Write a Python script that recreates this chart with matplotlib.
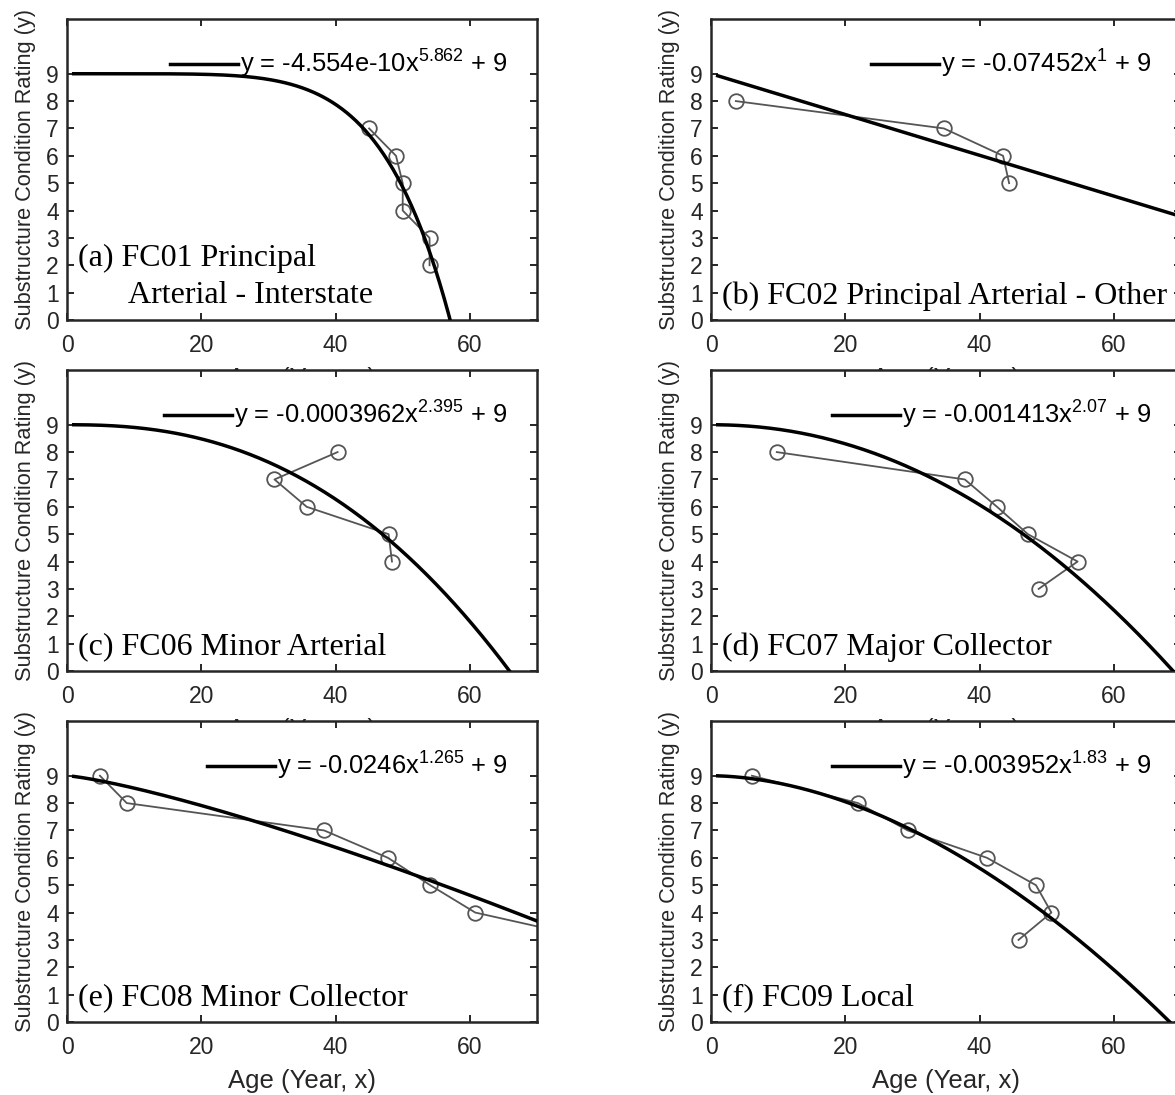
import numpy as np
import matplotlib
matplotlib.use("Agg")
import matplotlib.pyplot as plt

plt.rcParams["font.family"] = ["Liberation Sans", "DejaVu Sans"]
plt.rcParams["mathtext.default"] = "regular"

# observed average age for each condition rating, per functional class
ages = [
    [45, 49, 50, 50, 54, 54],
    [3.7, 34.7, 43.5, 44.4],
    [40.3, 30.9, 35.7, 47.9, 48.4],
    [9.8, 37.8, 42.6, 47.2, 54.6, 48.8],
    [4.9, 8.9, 38.3, 47.8, 54.1, 60.8, 79],
    [6.1, 21.9, 29.3, 41.1, 48.4, 50.7, 45.8],
]
ratings = [
    [7, 6, 5, 4, 3, 2],
    [8, 7, 6, 5],
    [8, 7, 6, 5, 4],
    [8, 7, 6, 5, 4, 3],
    [9, 8, 7, 6, 5, 4, 3],
    [9, 8, 7, 6, 5, 4, 3],
]

# fitted power model y = -a * x^b + 9
coef_a = [4.554e-10, 0.07452, 0.0003962, 0.001413, 0.0246, 0.003952]
coef_b = [5.862, 1, 2.395, 2.07, 1.265, 1.83]
coef_a_txt = ["-4.554e-10", "-0.07452", "-0.0003962", "-0.001413", "-0.0246", "-0.003952"]
coef_b_txt = ["5.862", "1", "2.395", "2.07", "1.265", "1.83"]
intercept = 9

panel_labels = [
    ["(a) FC01 Principal", "Arterial - Interstate"],
    ["(b) FC02 Principal Arterial - Other"],
    ["(c) FC06 Minor Arterial"],
    ["(d) FC07 Major Collector"],
    ["(e) FC08 Minor Collector"],
    ["(f) FC09 Local"],
]

W, H = 1175, 1095
fig = plt.figure(figsize=(W / 100, H / 100), dpi=100)

col_left = [67, 711]
row_top = [19, 370, 721]
ax_w, ax_h = 470, 301
axis_col = "#262626"

x_fit = np.linspace(1, 70, 400)

for i in range(6):
    r, c = divmod(i, 2)
    ax = fig.add_axes([col_left[c] / W, 1 - (row_top[r] + ax_h) / H, ax_w / W, ax_h / H])

    ax.plot(ages[i], ratings[i], color="#555555", lw=1.3, marker="o",
            mfc="none", mec="#555555", ms=10.5, mew=1.3, zorder=2)
    y_fit = -coef_a[i] * x_fit ** coef_b[i] + intercept
    fit_line, = ax.plot(x_fit, y_fit, color="black", lw=2.5, zorder=3)

    label = f"y = {coef_a_txt[i]}x$^{{{coef_b_txt[i]}}}$ + {intercept}"
    ax.legend([fit_line], [label], loc="center right", bbox_to_anchor=(0.937, 0.85),
              frameon=False, fontsize=18.4, handlelength=2.65, handletextpad=0.08,
              borderpad=0, borderaxespad=0)

    lines = panel_labels[i]
    if len(lines) == 2:
        ax.text(0.023, 0.205, lines[0], transform=ax.transAxes, fontsize=23,
                family="Liberation Serif", va="center", ha="left")
        ax.text(0.13, 0.08, lines[1], transform=ax.transAxes, fontsize=23,
                family="Liberation Serif", va="center", ha="left")
    else:
        ax.text(0.023, 0.08, lines[0], transform=ax.transAxes, fontsize=23,
                family="Liberation Serif", va="center", ha="left")

    ax.set_xlim(0, 70)
    ax.set_ylim(0, 11)
    ax.set_xticks([0, 20, 40, 60])
    ax.set_yticks(range(10))
    ax.tick_params(direction="in", length=5, width=1.4, top=True, right=True,
                   labelsize=16.5, colors=axis_col)
    ax.tick_params(axis="x", pad=10)
    ax.tick_params(axis="y", pad=6)
    for s in ax.spines.values():
        s.set_linewidth(1.8)
        s.set_color(axis_col)

    ax.set_xlabel("Age (Year, x)", fontsize=18.5, color=axis_col, labelpad=7)
    ax.set_ylabel("Substructure Condition Rating (y)", fontsize=15.7,
                  color=axis_col, labelpad=7)

fig.savefig("out.png", dpi=100)
